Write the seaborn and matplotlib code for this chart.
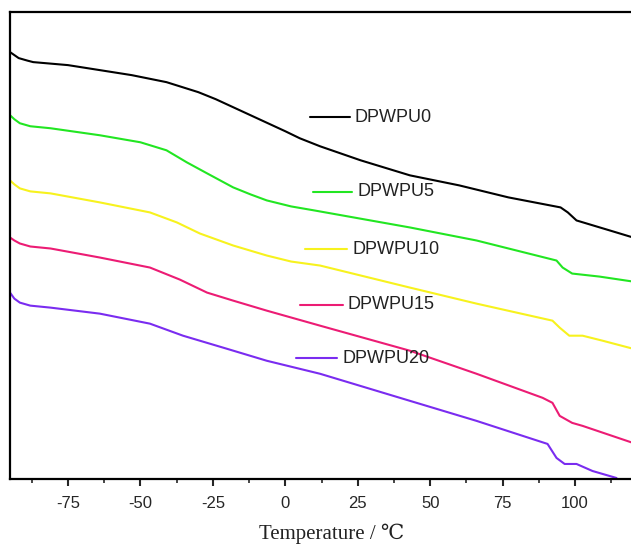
import matplotlib
matplotlib.use("Agg")
import matplotlib.pyplot as plt
import seaborn as sns
import pandas as pd
from matplotlib.ticker import MultipleLocator, NullLocator

# DSC curves, heat flow in arbitrary units
t_0 = [-95, -93.5, -92, -89, -87, -75, -64, -53, -41, -30, -24, -18, -12, -6, 0, 5, 12, 26, 43, 60, 77, 95, 97.5, 100.5, 112, 120]
v_0 = [426, 423, 420, 417.5, 416, 413, 408, 403, 396, 386, 379, 371, 363, 355, 347, 340, 332, 318, 303, 293, 281, 271, 266, 258, 248, 241]

t_5 = [-95, -93.5, -91.6, -88, -81, -64, -50, -41, -34, -27, -18, -12, -6.4, 2, 10, 43, 66, 93.6, 95.7, 99, 108.4, 120]
v_5 = [363, 359, 355, 352, 350, 343, 336, 328, 316, 305, 291, 284, 278, 272, 268, 251, 238, 218, 211, 205, 202, 197]

t_10 = [-95, -93.5, -91.6, -88, -81, -64, -46.7, -37.4, -29.5, -18, -6.4, 2, 12, 43, 66, 92.2, 94.7, 98, 102.6, 109.5, 120]
v_10 = [298, 294, 290, 287, 285, 276, 266, 256, 245, 233, 223, 217, 213, 191, 175, 158, 151, 143, 143, 138, 130]

t_15 = [-95, -93.5, -91.6, -88, -81, -64, -46.7, -36.4, -27, -18, -6.4, 12, 43, 66, 88.8, 92.2, 94.7, 99, 102.6, 120]
v_15 = [241, 238, 235, 232, 230, 221, 211, 199, 186, 178, 168, 153, 128, 105, 81, 76, 63, 56, 53, 36]

t_20 = [-95, -93.5, -91.6, -88, -81, -64, -46.7, -35.3, -20.2, -6.4, 12, 43, 66, 90.5, 93.6, 96.4, 100.5, 106, 114.3]
v_20 = [186, 180, 176, 173, 171, 165, 155, 143, 130, 118, 105, 78, 58, 35, 21, 15, 15, 8, 1]

names = ["DPWPU0", "DPWPU5", "DPWPU10", "DPWPU15", "DPWPU20"]
colors = ["#000000", "#22e622", "#f7f21e", "#ec1c74", "#7a2cf0"]

frames = []
for name, t, v in zip(names, [t_0, t_5, t_10, t_15, t_20], [v_0, v_5, v_10, v_15, v_20]):
    frames.append(pd.DataFrame({"T": t, "v": v, "sample": name}))
df = pd.concat(frames, ignore_index=True)

sns.set_style("white")
plt.rcParams['font.family'] = ['Liberation Sans', 'DejaVu Sans']
plt.rcParams['axes.unicode_minus'] = False

fig = plt.figure(figsize=(6.31, 5.47), dpi=100)
ax = fig.add_axes([10 / 631, 68 / 547, 621 / 631, 467 / 547])

sns.lineplot(data=df, x="T", y="v", hue="sample", palette=dict(zip(names, colors)),
             sort=False, estimator=None, linewidth=1.5, legend=False, ax=ax)

ax.set_xlim(-95, 119.3)
ax.set_ylim(0, 466)
ax.xaxis.set_major_locator(MultipleLocator(25))
ax.xaxis.set_minor_locator(MultipleLocator(12.5))
ax.yaxis.set_major_locator(NullLocator())
ax.tick_params(axis="x", which="major", direction="out", length=5, width=1.5,
               labelsize=12, pad=7, bottom=True)
ax.tick_params(axis="x", which="minor", direction="out", length=3, width=1.2, bottom=True)
for side in ["left", "top", "bottom"]:
    ax.spines[side].set_linewidth(1.6)
    ax.spines[side].set_color("black")
ax.spines["right"].set_visible(False)
ax.set_ylabel("")
ax.set_xlabel("Temperature / ℃", family=['Liberation Serif', 'DejaVu Serif'],
              fontsize=15, labelpad=9, color="#222222")
ax.xaxis.label.set_x(0.518)

# hand-placed labels with a short line, in axes fractions
leg_x0 = [0.483, 0.488, 0.475, 0.467, 0.4605]
leg_x1 = [0.547, 0.551, 0.543, 0.536, 0.527]
leg_y = [0.775, 0.615, 0.4925, 0.3726, 0.259]
for name, c, x0, x1, y in zip(names, colors, leg_x0, leg_x1, leg_y):
    ax.plot([x0, x1], [y, y], color=c, linewidth=1.5, transform=ax.transAxes)
    ax.text(x1 + 0.008, y, name, transform=ax.transAxes, fontsize=13,
            va="center", ha="left", color="#222222")

fig.savefig("out.png", dpi=100)
